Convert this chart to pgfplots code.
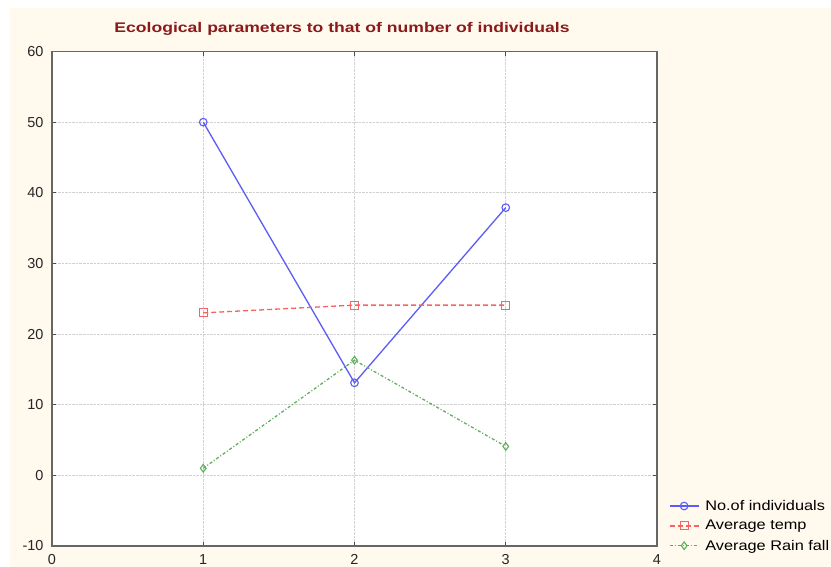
\documentclass[border=0pt]{standalone}
\usepackage{fontspec}
\setmainfont{Liberation Sans}
\usepackage{pgfplots}
\pgfplotsset{compat=1.18}
\definecolor{cream}{HTML}{FFF9EE}
\definecolor{titlered}{HTML}{8B1A1A}
\definecolor{sblue}{HTML}{5C5CF7}
\definecolor{sred}{HTML}{F76262}
\definecolor{sgreen}{HTML}{5EB05E}
\begin{document}
\begin{tikzpicture}
\clip (0bp,0bp) rectangle (831bp,-567bp);
\fill[white] (0bp,0bp) rectangle (831bp,-567bp);
\fill[cream] (10bp,-8bp) rectangle (831bp,-567bp);
\begin{axis}[
  at={(52bp,-546bp)}, anchor=south west,
  scale only axis, width=605bp, height=494.5bp,
  xmin=0, xmax=4, ymin=-10, ymax=60,
  xtick={0,1,2,3,4}, ytick={-10,0,10,20,30,40,50,60},
  axis background/.style={fill=white},
  grid=major,
  grid style={black!18, densely dotted, line width=0.7bp},
  axis line style={black!60, line width=1.6bp},
  tick style={black!70, line width=0.9bp},
  tick align=inside, major tick length=4bp,
  ticklabel style={font=\fontsize{14.5}{16}\selectfont, text=black!85},
  /pgf/number format/assume math mode=true,
  xticklabel style={yshift=-5bp},
  yticklabel style={xshift=-5bp},
  legend cell align=left,
  legend style={draw=none, fill=none, at={(1.0195,0.097)}, anchor=north west,
    font=\fontsize{14}{16}\selectfont, row sep=4.5bp, column sep=4bp, inner sep=0pt},
  legend image code/.code={
    \draw[mark repeat=2,mark phase=2] plot coordinates {(0bp,0bp) (14.5bp,0bp) (29bp,0bp)};},
]
\addplot[sblue, line width=1.3bp, mark=o, mark size=3.8bp, mark options={solid, line width=1.1bp}]
  coordinates {(1,50) (2,13.1) (3,37.9)};
\addlegendentry{\scalebox{1.17}[1]{No.of individuals}}
\addplot[sred, line width=1.3bp, dash pattern=on 5bp off 3bp, mark=square, mark size=4bp, mark options={solid, line width=1.1bp}]
  coordinates {(1,23) (2,24.1) (3,24.1)};
\addlegendentry{\scalebox{1.17}[1]{Average temp}}
\addplot[sgreen, line width=1.3bp, dash pattern=on 3bp off 2bp on 1bp off 2bp, mark=diamond, mark size=3.8bp, mark options={solid, line width=1.1bp}]
  coordinates {(1,1) (2,16.3) (3,4.1)};
\addlegendentry{\scalebox{1.17}[1]{Average Rain fall}}
\end{axis}
\node[font=\fontsize{14}{16}\selectfont\bfseries, text=titlered] at (342bp,-29bp) {\scalebox{1.26}[1]{Ecological parameters to that of number of individuals}};
\end{tikzpicture}
\end{document}
